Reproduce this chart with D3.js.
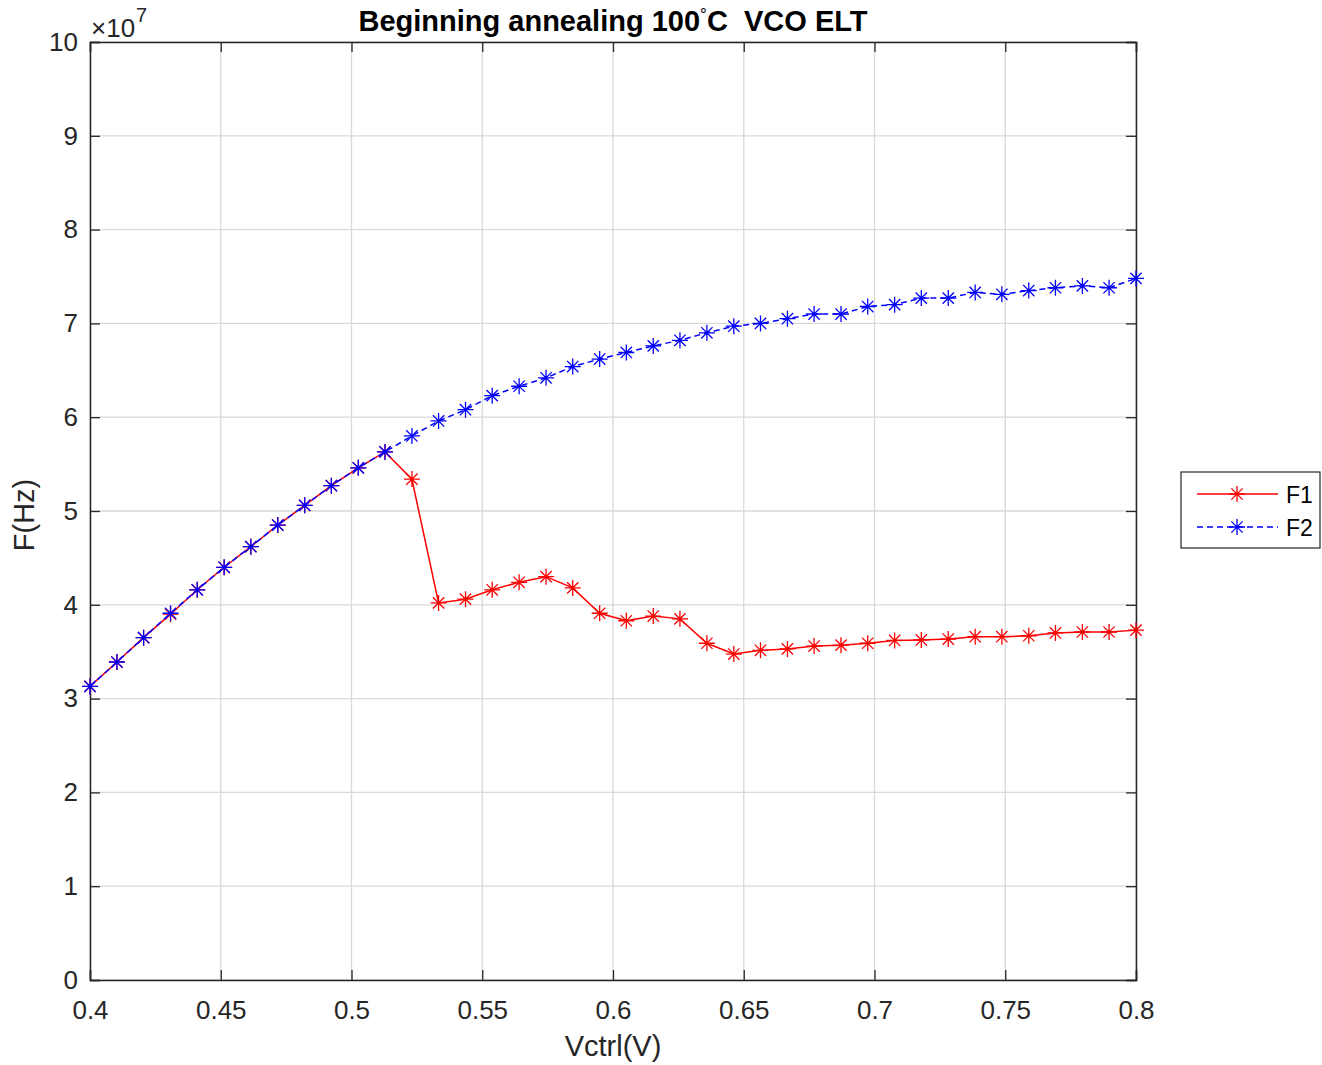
<!DOCTYPE html>
<html>
<head>
<meta charset="utf-8">
<script src="https://cdn.jsdelivr.net/npm/d3@7"></script>
<style>
  html, body { margin: 0; padding: 0; background: #fff; }
  svg { display: block; font-family: "Liberation Sans", Arial, Helvetica, sans-serif; }
</style>
</head>
<body>
<svg id="chart" width="1322" height="1065"></svg>
<script>
// Control voltage sweep (V)
const vctrl = [
  0.4000, 0.4103, 0.4205, 0.4308, 0.4410, 0.4513, 0.4615, 0.4718, 0.4821, 0.4923,
  0.5026, 0.5128, 0.5231, 0.5333, 0.5436, 0.5538, 0.5641, 0.5744, 0.5846, 0.5949,
  0.6051, 0.6154, 0.6256, 0.6359, 0.6462, 0.6564, 0.6667, 0.6769, 0.6872, 0.6974,
  0.7077, 0.7179, 0.7282, 0.7385, 0.7487, 0.7590, 0.7692, 0.7795, 0.7897, 0.8000
];

// Oscillation frequency F1 (Hz)
const f1 = [
  3.13e7, 3.39e7, 3.65e7, 3.90e7, 4.16e7, 4.40e7, 4.62e7, 4.85e7, 5.06e7, 5.27e7,
  5.46e7, 5.63e7, 5.34e7, 4.02e7, 4.06e7, 4.16e7, 4.24e7, 4.30e7, 4.18e7, 3.91e7,
  3.83e7, 3.88e7, 3.85e7, 3.59e7, 3.475e7, 3.515e7, 3.53e7, 3.56e7, 3.57e7, 3.59e7,
  3.62e7, 3.625e7, 3.635e7, 3.66e7, 3.66e7, 3.67e7, 3.70e7, 3.71e7, 3.71e7, 3.73e7
];

// Oscillation frequency F2 (Hz)
const f2 = [
  3.13e7, 3.39e7, 3.65e7, 3.91e7, 4.16e7, 4.40e7, 4.62e7, 4.85e7, 5.06e7, 5.27e7,
  5.46e7, 5.63e7, 5.80e7, 5.96e7, 6.08e7, 6.23e7, 6.33e7, 6.42e7, 6.54e7, 6.62e7,
  6.69e7, 6.76e7, 6.82e7, 6.90e7, 6.97e7, 7.00e7, 7.05e7, 7.10e7, 7.10e7, 7.18e7,
  7.20e7, 7.27e7, 7.27e7, 7.33e7, 7.31e7, 7.35e7, 7.38e7, 7.40e7, 7.38e7, 7.48e7
];

const xTicks = [0.4, 0.45, 0.5, 0.55, 0.6, 0.65, 0.7, 0.75, 0.8];
const xTickLabels = ["0.4", "0.45", "0.5", "0.55", "0.6", "0.65", "0.7", "0.75", "0.8"];
const yTicks = [0, 1e7, 2e7, 3e7, 4e7, 5e7, 6e7, 7e7, 8e7, 9e7, 1e8];
const yTickLabels = ["0", "1", "2", "3", "4", "5", "6", "7", "8", "9", "10"];

const seriesNames = ["F1", "F2"];
const seriesColors = ["#ff0000", "#0000ff"];
const seriesDash = [null, "6,4"];

const svg = d3.select("#chart");
const plotLeft = 90, plotRight = 1136, plotTop = 42, plotBottom = 980;
const axisColor = "#262626";

const x = d3.scaleLinear().domain([0.4, 0.8]).range([plotLeft, plotRight]);
const y = d3.scaleLinear().domain([0, 1e8]).range([plotBottom, plotTop]);

// grid
const grid = svg.append("g");
grid.selectAll(null).data(xTicks).enter().append("line")
  .attr("x1", d => x(d)).attr("x2", d => x(d))
  .attr("y1", plotTop).attr("y2", plotBottom)
  .attr("stroke", "#d9d9d9").attr("stroke-width", 1.3);
grid.selectAll(null).data(yTicks).enter().append("line")
  .attr("x1", plotLeft).attr("x2", plotRight)
  .attr("y1", d => y(d)).attr("y2", d => y(d))
  .attr("stroke", "#d9d9d9").attr("stroke-width", 1.3);

// axes (box with inward ticks)
const tickLen = 10;
const xAxisB = d3.axisBottom(x).tickValues(xTicks).tickSize(-tickLen)
  .tickFormat((d, i) => xTickLabels[i]).tickPadding(21);
const xAxisT = d3.axisTop(x).tickValues(xTicks).tickSize(-tickLen).tickFormat("");
const yAxisL = d3.axisLeft(y).tickValues(yTicks).tickSize(-tickLen)
  .tickFormat((d, i) => yTickLabels[i]).tickPadding(12);
const yAxisR = d3.axisRight(y).tickValues(yTicks).tickSize(-tickLen).tickFormat("");

function styleAxis(g) {
  g.select(".domain").attr("stroke", axisColor).attr("stroke-width", 1.5);
  g.selectAll(".tick line").attr("stroke", axisColor).attr("stroke-width", 1.3);
  g.selectAll(".tick text").attr("fill", axisColor)
    .style("font-size", "26px").style("font-family", "'Liberation Sans', Arial, sans-serif");
}

svg.append("g").attr("transform", `translate(0,${plotBottom})`).call(xAxisB).call(styleAxis);
svg.append("g").attr("transform", `translate(0,${plotTop})`).call(xAxisT).call(styleAxis);
svg.append("g").attr("transform", `translate(${plotLeft},0)`).call(yAxisL).call(styleAxis);
svg.append("g").attr("transform", `translate(${plotRight},0)`).call(yAxisR).call(styleAxis);

// asterisk marker path ('*': plus + cross)
function starPath(r) {
  const d = r * Math.SQRT1_2;
  return `M${-r},0L${r},0M0,${-r}L0,${r}M${-d},${-d}L${d},${d}M${-d},${d}L${d},${-d}`;
}
const marker = starPath(8);

const plot = svg.append("g");
[f1, f2].forEach((vals, si) => {
  const pts = vctrl.map((v, i) => [v, vals[i]]);
  const line = d3.line().x(d => x(d[0])).y(d => y(d[1]));
  plot.append("path").datum(pts)
    .attr("d", line).attr("fill", "none")
    .attr("stroke", seriesColors[si]).attr("stroke-width", 1.5)
    .attr("stroke-dasharray", seriesDash[si]);
  plot.selectAll(null).data(pts).enter().append("path")
    .attr("transform", d => `translate(${x(d[0])},${y(d[1])})`)
    .attr("d", marker).attr("fill", "none")
    .attr("stroke", seriesColors[si]).attr("stroke-width", 1.3);
});

// exponent label
const expo = svg.append("text").attr("x", 91).attr("y", 37)
  .attr("fill", axisColor).style("font-size", "26px");
expo.append("tspan").text("×10");
expo.append("tspan").attr("dx", 1).attr("dy", -15).style("font-size", "20px").text("7");

// title
const title = svg.append("text").attr("x", (plotLeft + plotRight) / 2).attr("y", 31)
  .attr("text-anchor", "middle").attr("fill", "#000")
  .style("font-size", "29px").style("font-weight", "bold");
title.append("tspan").text("Beginning annealing 100");
title.append("tspan").attr("dy", -11).style("font-size", "17px").style("font-weight", "normal").text("°");
title.append("tspan").attr("dy", 11).text("C\u00a0\u00a0VCO ELT");

// axis labels
svg.append("text").attr("x", (plotLeft + plotRight) / 2).attr("y", 1056)
  .attr("text-anchor", "middle").attr("fill", axisColor)
  .style("font-size", "29px").text("Vctrl(V)");
svg.append("text").attr("transform", `translate(34,515) rotate(-90)`)
  .attr("text-anchor", "middle").attr("fill", axisColor)
  .style("font-size", "29px").text("F(Hz)");

// legend
const lg = svg.append("g");
lg.append("rect").attr("x", 1181).attr("y", 472).attr("width", 139).attr("height", 76)
  .attr("fill", "#fff").attr("stroke", axisColor).attr("stroke-width", 1.2);
seriesNames.forEach((name, i) => {
  const ly = 494 + i * 33;
  lg.append("line").attr("x1", 1197).attr("x2", 1278).attr("y1", ly).attr("y2", ly)
    .attr("stroke", seriesColors[i]).attr("stroke-width", 1.5)
    .attr("stroke-dasharray", seriesDash[i]);
  lg.append("path").attr("transform", `translate(1237,${ly})`).attr("d", marker)
    .attr("fill", "none").attr("stroke", seriesColors[i]).attr("stroke-width", 1.3);
  lg.append("text").attr("x", 1286).attr("y", ly + 9).attr("fill", "#000")
    .style("font-size", "23px").text(name);
});
</script>
</body>
</html>
